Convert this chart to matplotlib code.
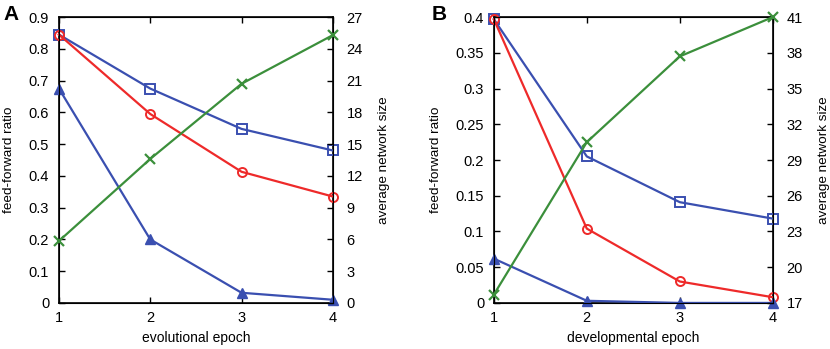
import matplotlib
matplotlib.use('Agg')
import matplotlib.pyplot as plt

plt.rcParams['font.family'] = ['Liberation Sans', 'DejaVu Sans']

epochs = [1, 2, 3, 4]

# panel A - evolutional epoch
a_square = [0.845, 0.675, 0.548, 0.480]
a_circle = [0.845, 0.595, 0.413, 0.335]
a_triangle = [0.675, 0.200, 0.032, 0.010]
a_size = [5.85, 13.6, 20.7, 25.3]

# panel B - developmental epoch
b_square = [0.397, 0.205, 0.141, 0.118]
b_circle = [0.397, 0.104, 0.030, 0.008]
b_triangle = [0.062, 0.003, 0.0, 0.0]
b_size = [17.7, 30.5, 37.7, 41.0]

red = '#ee2a2a'
blue = '#3a4fb0'
green = '#3b8f3b'

fig = plt.figure(figsize=(8.3, 3.49), dpi=100)


def panel(rect, sq, ci, tr, size, ylim, yticks, ylabels, y2lim, y2ticks, xlabel, letter, lx):
    ax = fig.add_axes(rect)
    ax2 = ax.twinx()
    ax.plot(epochs, sq, color=blue, lw=1.6, marker='s', ms=6.5, mfc='none', mew=1.4, clip_on=False, zorder=3)
    ax.plot(epochs, ci, color=red, lw=1.6, marker='o', ms=6.5, mfc='none', mew=1.4, clip_on=False, zorder=3)
    ax.plot(epochs, tr, color=blue, lw=1.6, marker='^', ms=7, clip_on=False, zorder=3)
    ax2.plot(epochs, size, color=green, lw=1.6, marker='x', ms=7, mew=1.6, clip_on=False, zorder=3)
    ax.set_xlim(1, 4)
    ax.set_ylim(*ylim)
    ax2.set_ylim(*y2lim)
    ax.set_xticks(epochs)
    ax.set_yticks(yticks)
    ax.set_yticklabels(ylabels)
    ax2.set_yticks(y2ticks)
    ax.tick_params(direction='in', length=4, width=1, labelsize=10.5, top=True, pad=7)
    ax2.tick_params(direction='in', length=4, width=1, labelsize=10.5, pad=10)
    ax.tick_params(axis='x', pad=6)
    ax.set_xlabel(xlabel, fontsize=10)
    ax.set_ylabel('feed-forward ratio', fontsize=9.7, labelpad=10)
    ax2.set_ylabel('average network size', fontsize=9.7, labelpad=11)
    for s in ax.spines.values():
        s.set_linewidth(1.2)
    fig.text(lx, 0.985, letter, fontsize=15, fontweight='bold', va='top')
    return ax


panel([0.071, 0.132, 0.330, 0.819], a_square, a_circle, a_triangle, a_size,
      (0, 0.9), [0, 0.1, 0.2, 0.3, 0.4, 0.5, 0.6, 0.7, 0.8, 0.9],
      ['0', '0.1', '0.2', '0.3', '0.4', '0.5', '0.6', '0.7', '0.8', '0.9'],
      (0, 27), [0, 3, 6, 9, 12, 15, 18, 21, 24, 27], 'evolutional epoch', 'A', 0.004)

panel([0.595, 0.132, 0.336, 0.819], b_square, b_circle, b_triangle, b_size,
      (0, 0.4), [0, 0.05, 0.1, 0.15, 0.2, 0.25, 0.3, 0.35, 0.4],
      ['0', '0.05', '0.1', '0.15', '0.2', '0.25', '0.3', '0.35', '0.4'],
      (17, 41), [17, 20, 23, 26, 29, 32, 35, 38, 41], 'developmental epoch', 'B', 0.52)

fig.savefig('out.png', dpi=100)
